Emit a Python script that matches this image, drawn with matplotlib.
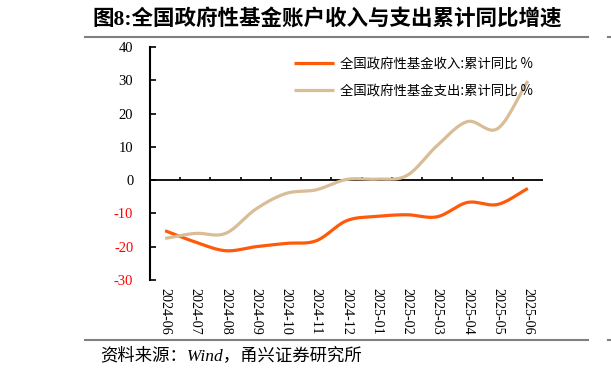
import numpy as np
import matplotlib
matplotlib.use("Agg")
import matplotlib.pyplot as plt
from matplotlib.lines import Line2D

plt.rcParams['font.family'] = ['Liberation Serif', 'Noto Sans CJK SC']
plt.rcParams['axes.unicode_minus'] = False

# data
months = ['2024-06', '2024-07', '2024-08', '2024-09', '2024-10', '2024-11', '2024-12',
          '2025-01', '2025-02', '2025-03', '2025-04', '2025-05', '2025-06']
income = [-15.2, -18.6, -21.2, -20.0, -19.0, -18.2, -12.2,
          -10.9, -10.4, -11.0, -6.7, -7.3, -2.5]
spend = [-17.5, -16.0, -16.0, -8.7, -4.0, -2.9, 0.2,
         0.3, 1.4, 10.4, 17.6, 15.5, 29.8]
yticks = [-30, -20, -10, 0, 10, 20, 30, 40]

name_in = '全国政府性基金收入:累计同比 %'
name_out = '全国政府性基金支出:累计同比 %'
c_in = '#FF5A0A'
c_out = '#D8BD96'


def smooth(y, n=24):
    # catmull-rom through the monthly points
    y = np.asarray(y, float)
    p = np.concatenate([[2 * y[0] - y[1]], y, [2 * y[-1] - y[-2]]])
    xs, ys = [], []
    t = np.linspace(0, 1, n, endpoint=False)
    for i in range(len(y) - 1):
        p0, p1, p2, p3 = p[i], p[i + 1], p[i + 2], p[i + 3]
        v = 0.5 * ((2 * p1) + (-p0 + p2) * t + (2 * p0 - 5 * p1 + 4 * p2 - p3) * t ** 2
                   + (-p0 + 3 * p1 - 3 * p2 + p3) * t ** 3)
        xs.append(i + t)
        ys.append(v)
    xs.append([len(y) - 1])
    ys.append([y[-1]])
    return np.concatenate(xs), np.concatenate(ys)


fig = plt.figure(figsize=(6.11, 3.71), dpi=100)
ax = fig.add_axes([150 / 611, 1 - 280 / 371, 393 / 611, 233 / 371])

x = np.arange(len(months))
sx, sy = smooth(income)
ax.plot(sx, sy, color=c_in, lw=2.3, label=name_in, solid_capstyle='butt')
sx, sy = smooth(spend)
ax.plot(sx, sy, color=c_out, lw=2.3, label=name_out, solid_capstyle='butt')

ax.set_xlim(-0.5, len(months) - 0.5)
ax.set_ylim(-30, 40)
ax.set_yticks(yticks)
ax.set_yticklabels([str(v) for v in yticks])
for lab, v in zip(ax.get_yticklabels(), yticks):
    lab.set_color('red' if v < 0 else 'black')
ax.tick_params(axis='y', direction='in', length=4, width=1.2, pad=12, labelsize=10.5)

ax.set_xticks(x)
ax.set_xticklabels(months, rotation=-90, fontsize=10.2)
ax.tick_params(axis='x', length=0, pad=6)

for s in ['top', 'right', 'bottom']:
    ax.spines[s].set_visible(False)
ax.spines['left'].set_linewidth(1.5)
ax.axhline(0, color='black', lw=1.3, zorder=1)
ax.vlines(x[:-1] + 0.5, 0, 1.0, color='black', lw=1.2, zorder=1)

ax.legend(loc='upper left', bbox_to_anchor=(287 / 611, 1 - 50 / 371),
          bbox_transform=fig.transFigure, frameon=False, borderpad=0,
          handlelength=3.0, handletextpad=0.5, labelspacing=0.95,
          prop={'family': 'Noto Sans CJK SC', 'size': 9.6})

fig.text(92 / 611, 1 - 19 / 371, '图8:全国政府性基金账户收入与支出累计同比增速',
         fontsize=15.5, fontweight='bold', va='center', ha='left')

fig.add_artist(Line2D([85 / 611, 588 / 611], [1 - 37 / 371] * 2, color='#808080', lw=1.5))
fig.add_artist(Line2D([608 / 611, 1], [1 - 37 / 371] * 2, color='#808080', lw=1.5))
fig.add_artist(Line2D([85 / 611, 588 / 611], [1 - 340 / 371] * 2, color='#808080', lw=1.5))
fig.add_artist(Line2D([608 / 611, 1], [1 - 340 / 371] * 2, color='#808080', lw=1.5))

fig.text(100 / 611, 1 - 356 / 371, '资料来源：Wind，甬兴证券研究所', fontsize=12.5,
         style='italic', va='center', ha='left')

fig.savefig('out.png', dpi=100)
